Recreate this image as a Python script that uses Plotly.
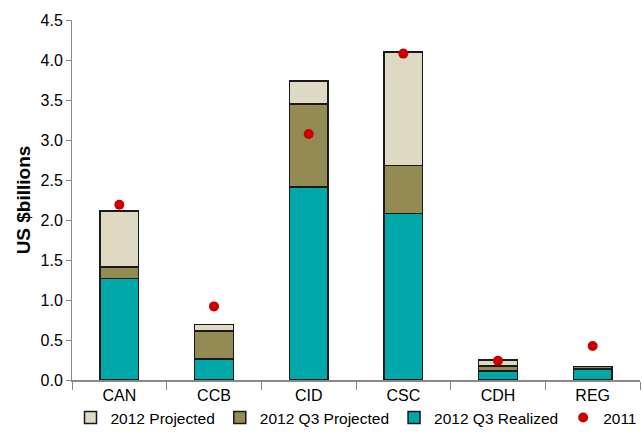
import plotly.graph_objects as go

categories = ["CAN", "CCB", "CID", "CSC", "CDH", "REG"]
# Stacked segments (US $ billions)
q3_realized = [1.27, 0.26, 2.41, 2.08, 0.11, 0.135]
q3_projected = [0.14, 0.35, 1.04, 0.60, 0.065, 0.035]
projected_2012 = [0.70, 0.085, 0.29, 1.42, 0.075, 0.0]
value_2011 = [2.19, 0.92, 3.075, 4.08, 0.24, 0.425]

font_family = "Liberation Sans, Arial, sans-serif"
outline = dict(color="#1a1a1a", width=1.5)

fig = go.Figure()
fig.add_trace(go.Bar(x=categories, y=q3_realized, name="2012 Q3 Realized",
                     marker=dict(color="#00A8AA", line=outline), legendrank=3))
fig.add_trace(go.Bar(x=categories, y=q3_projected, name="2012 Q3 Projected",
                     marker=dict(color="#948A54", line=outline), legendrank=2))
fig.add_trace(go.Bar(x=categories, y=projected_2012, name="2012 Projected",
                     marker=dict(color="#DDD9C3", line=outline), legendrank=1))
fig.add_trace(go.Scatter(x=categories, y=value_2011, name="2011", mode="markers",
                         marker=dict(color="#CC0000", size=10), legendrank=4))

fig.update_layout(
    width=642, height=435,
    margin=dict(l=72, r=2, t=20, b=55, autoexpand=False),
    barmode="stack", bargap=0.59,
    plot_bgcolor="white", paper_bgcolor="white",
    font=dict(family=font_family, size=16, color="#000000"),
    showlegend=True,
    legend=dict(orientation="h", x=0.5, xanchor="center",
                yref="container", y=-0.03, yanchor="bottom",
                font=dict(size=15.5), traceorder="normal", itemwidth=30,
                tracegroupgap=0),
    xaxis=dict(showline=True, linecolor="#888888", linewidth=2,
               ticks="outside", tickson="boundaries", ticklen=8,
               tickcolor="#888888", showgrid=False),
    yaxis=dict(range=[0, 4.5], dtick=0.5, tickformat=".1f",
               showline=True, linecolor="#888888", linewidth=1,
               ticks="outside", ticklen=5, tickcolor="#888888",
               showgrid=False, zeroline=False,
               title=dict(text="<b>US $billions</b>", standoff=4)),
)

fig.write_html("out.html")
